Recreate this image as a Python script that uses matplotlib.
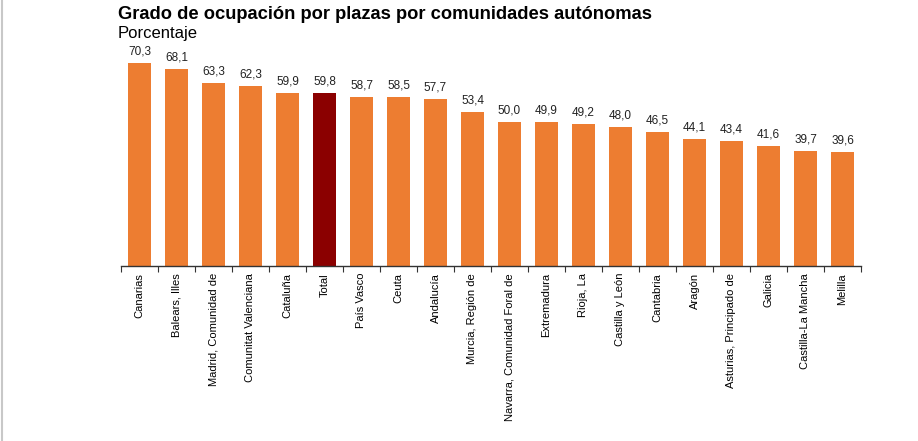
import matplotlib
matplotlib.use('Agg')
from matplotlib import pyplot as plt
from matplotlib.lines import Line2D

plt.rcParams['font.family'] = ['Liberation Sans', 'DejaVu Sans']

# comunidades y porcentaje de ocupacion
comunidades = ['Canarias', 'Balears, Illes', 'Madrid, Comunidad de', 'Comunitat Valenciana',
               'Cataluña', 'Total', 'País Vasco', 'Ceuta', 'Andalucía', 'Murcia, Región de',
               'Navarra, Comunidad Foral de', 'Extremadura', 'Rioja, La', 'Castilla y León',
               'Cantabria', 'Aragón', 'Asturias, Principado de', 'Galicia',
               'Castilla-La Mancha', 'Melilla']
ocupacion = [70.3, 68.1, 63.3, 62.3, 59.9, 59.8, 58.7, 58.5, 57.7, 53.4,
             50.0, 49.9, 49.2, 48.0, 46.5, 44.1, 43.4, 41.6, 39.7, 39.6]

naranja = '#ED7D31'
rojo_total = '#8B0000'
colores = [rojo_total if c == 'Total' else naranja for c in comunidades]

fig = plt.figure(figsize=(9.18, 4.41), dpi=100)
ax = fig.add_axes([0.1318, 0.3968, 0.8061, 0.5238])

x = range(len(comunidades))
barras = ax.bar(x, ocupacion, width=0.6, color=colores)

# etiquetas de valor con coma decimal
for b, v in zip(barras, ocupacion):
    ax.text(b.get_x() + b.get_width() / 2, v + 1.9, ('%.1f' % v).replace('.', ','),
            ha='center', va='bottom', fontsize=8.5, color='#222222')

ax.set_xlim(-0.5, len(comunidades) - 0.5)
ax.set_ylim(0, 80)
ax.set_yticks([])
for s in ['top', 'right', 'left']:
    ax.spines[s].set_visible(False)
ax.spines['bottom'].set_color('#333333')
ax.spines['bottom'].set_linewidth(1)

# marcas en los limites de cada categoria
ax.set_xticks([i - 0.5 for i in range(len(comunidades) + 1)])
ax.set_xticklabels([])
ax.tick_params(axis='x', direction='out', length=4, color='#333333')
ax.set_xticks(list(x), minor=True)
ax.set_xticklabels(comunidades, minor=True, rotation=90, fontsize=8, va='top', ha='center')
ax.tick_params(axis='x', which='minor', length=0, pad=5)

fig.text(0.1285, 0.966, 'Grado de ocupación por plazas por comunidades autónomas',
         fontsize=13.2, fontweight='bold', ha='left', va='center')
fig.text(0.1285, 0.925, 'Porcentaje', fontsize=12, ha='left', va='center')

# borde gris a la izquierda
fig.add_artist(Line2D([0.002, 0.002], [0, 1], transform=fig.transFigure, color='#c8c8c8', lw=1.5))

plt.savefig('out.png', dpi=100)
